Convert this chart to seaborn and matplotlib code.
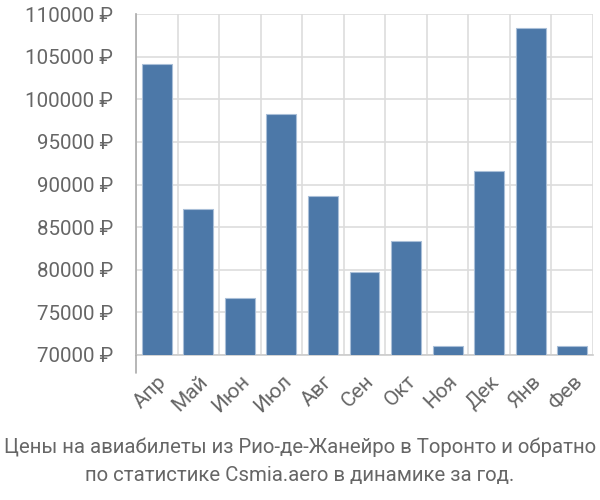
import matplotlib
matplotlib.use("Agg")
import matplotlib.pyplot as plt
import seaborn as sns
import pandas as pd

months = ["Апр", "Май", "Июн", "Июл", "Авг", "Сен", "Окт", "Ноя", "Дек", "Янв", "Фев"]
prices = [104100, 87100, 76700, 98300, 88700, 79700, 83400, 71100, 91600, 108400, 71100]
y_ticks = [70000, 75000, 80000, 85000, 90000, 95000, 100000, 105000, 110000]
y_labels = [f"{v} ₽" for v in y_ticks]
title_lines = ["Цены на авиабилеты из Рио-де-Жанейро в Торонто и обратно",
               "по статистике Csmia.aero в динамике за год."]

sns.set_theme(style="white")
plt.rcParams['font.family'] = ['Roboto', 'DejaVu Sans']

df = pd.DataFrame({"month": months, "price": prices})

fig = plt.figure(figsize=(6, 5), dpi=100)
ax = fig.add_axes([136/600, 1-355/500, (593-136)/600, (355-14)/500])

sns.barplot(data=df, x="month", y="price", ax=ax, color="#4c78a8", saturation=1,
            width=0.72, edgecolor="#a9bfd8", linewidth=0.8, zorder=3)

ax.set_ylim(70000, 110000)
ax.set_xlim(-0.5, len(months) - 0.5)
ax.set_yticks(y_ticks)
ax.set_yticklabels(y_labels)
ax.set_xlabel("")
ax.set_ylabel("")

# vertical grid lines at category boundaries
for b in [i - 0.5 for i in range(len(months) + 1)]:
    ax.axvline(b, color="#dddddd", lw=1.2, zorder=1)
ax.set_xticks([i - 0.5 for i in range(len(months) + 1)], minor=True)
ax.tick_params(axis="x", which="minor", length=13, width=1.2, color="#dddddd")
ax.tick_params(axis="x", which="major", length=0, labelsize=15, labelcolor="#666666", pad=12)
ax.tick_params(axis="y", length=14.4, width=1.2, color="#dddddd", labelsize=14.8,
               labelcolor="#666666", pad=2)
ax.yaxis.grid(True, color="#dddddd", lw=1.2, zorder=1)

for lbl in ax.get_xticklabels():
    lbl.set_rotation(45)
    lbl.set_ha("right")
    lbl.set_rotation_mode("anchor")

for s in ["top", "right"]:
    ax.spines[s].set_visible(False)
ax.spines["left"].set_color("#aaaaaa")
ax.spines["left"].set_bounds(70000, 110000)
ax.spines["bottom"].set_color("#cccccc")
ax.spines["left"].set_linewidth(1.2)
ax.spines["bottom"].set_linewidth(1.2)

# extend left spine downward like the reference
ax.plot([-0.5, -0.5], [70000, 70000 - 18 / 341 * 40000], color="#aaaaaa", lw=1.2,
        clip_on=False, zorder=4)

fig.text(0.5, 1 - 447/500, title_lines[0], ha="center", va="center", fontsize=14.7,
         color="#666666")
fig.text(0.5, 1 - 475/500, title_lines[1], ha="center", va="center", fontsize=14.7,
         color="#666666")

fig.savefig("out.png", dpi=100)
